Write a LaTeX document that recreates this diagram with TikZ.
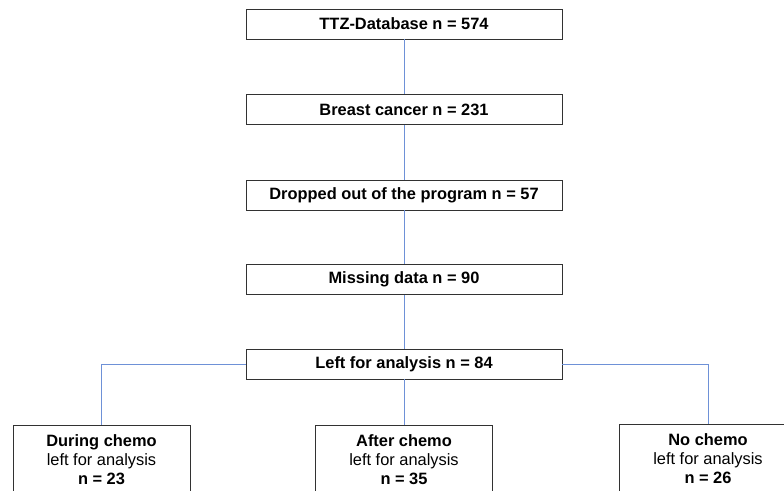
\documentclass[tikz,border=0pt]{standalone}
\usepackage{fontspec}
\setmainfont{Liberation Sans}
\definecolor{linkblue}{RGB}{110,145,215}
\definecolor{boxgray}{RGB}{50,50,50}
\begin{document}
\begin{tikzpicture}[x=1pt,y=-1pt,
  flowbox/.style={draw=boxgray,line width=0.9pt,fill=white,minimum width=316pt,minimum height=30pt,inner sep=0pt,font=\fontsize{16.4}{19}\selectfont\bfseries},
  armbox/.style={draw=boxgray,line width=0.9pt,fill=white,minimum width=177pt,minimum height=90pt,inner sep=0pt,anchor=north},
  armtext/.style={inner sep=0pt,align=center,font=\fontsize{16.4}{19}\selectfont},
  link/.style={draw=linkblue,line width=0.9pt}]
\useasboundingbox (0,0) rectangle (784,490);
\begin{scope}
\clip (0,0) rectangle (784,490);
\node[flowbox] (db) at (404,24) {TTZ-Database n = 574};
\node[flowbox] (bc) at (404,109.5) {Breast cancer n = 231};
\node[flowbox] (drop) at (404,195) {Dropped out of the program n = 57};
\node[flowbox] (miss) at (404,279.5) {Missing data n = 90};
\node[flowbox] (left) at (404,364) {Left for analysis n = 84};
\node[armbox] (during) at (101.5,425) {};
\node[armbox] (after) at (404,425) {};
\node[armbox] (nochemo) at (708,424) {};
\node[armtext] (duringtxt) at (101.5,460) {\textbf{During chemo}\\left for analysis\\\textbf{n = 23}};
\node[armtext] (aftertxt) at (404,460) {\textbf{After chemo}\\left for analysis\\\textbf{n = 35}};
\node[armtext] (nochemotxt) at (708,459) {\textbf{No chemo}\\left for analysis\\\textbf{n = 26}};
\draw[link] (db) -- (bc);
\draw[link] (bc) -- (drop);
\draw[link] (drop) -- (miss);
\draw[link] (miss) -- (left);
\draw[link] (left.west) -| (during.north);
\draw[link] (left.south) -- (after.north);
\draw[link] (left.east) -| (nochemo.north);
\end{scope}
\end{tikzpicture}
\end{document}
